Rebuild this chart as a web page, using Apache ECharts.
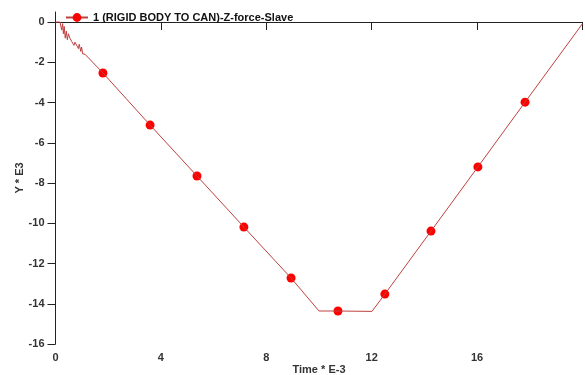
<!DOCTYPE html>
<html>
<head>
<meta charset="utf-8">
<script src="https://cdn.jsdelivr.net/npm/echarts@6/dist/echarts.min.js"></script>
<style>
  html, body { margin: 0; padding: 0; background: #fff; }
  #chart { width: 585px; height: 375px; }
</style>
</head>
<body>
<div id="chart"></div>
<script>
// curve trace (time * E-3, force * E3)
const times = [0, 0.17, 0.235, 0.27, 0.30, 0.33, 0.37, 0.41, 0.45, 0.49, 0.55, 0.61, 0.70, 0.74, 0.87, 0.90, 0.96, 0.99, 1.03, 1.12,
  1.80, 3.59, 5.37, 7.15, 8.94, 10.0, 10.72, 12.01, 12.50, 14.25, 16.03, 17.82, 20.0];
const values = [0, 0, -0.40, -0.08, -0.58, -0.22, -0.80, -0.45, -0.88, -0.58, -0.82, -0.95, -1.16, -1.00, -1.32, -1.10, -1.46, -1.24, -1.58, -1.60,
  -2.53, -5.12, -7.65, -10.19, -12.72, -14.36, -14.36, -14.38, -13.52, -10.39, -7.20, -3.98, -0.08];

// plotted markers on the curve
const markerTimes = [1.80, 3.59, 5.37, 7.15, 8.94, 10.72, 12.50, 14.25, 16.03, 17.82];
const markerValues = [-2.53, -5.12, -7.65, -10.19, -12.72, -14.36, -13.52, -10.39, -7.20, -3.98];

const xTicks = [0, 4, 8, 12, 16, 20];
const xLabels = [0, 4, 8, 12, 16];
const yTicks = [-16, -14, -12, -10, -8, -6, -4, -2, 0];

const seriesName = '1 (RIGID BODY TO CAN)-Z-force-Slave';

const chart = echarts.init(document.getElementById('chart'));
const labelStyle = {
  color: '#333',
  fontFamily: 'Liberation Sans',
  fontSize: 11,
  fontWeight: 'bold'
};

chart.setOption({
  animation: false,
  grid: {
    left: 55.5,
    right: 2.5,
    top: 12,
    bottom: 31,
    outerBoundsMode: 'none'
  },
  legend: {
    data: [seriesName],
    left: 60,
    top: 7,
    itemWidth: 22,
    itemHeight: 11,
    textStyle: {
      color: '#111',
      fontFamily: 'Liberation Sans',
      fontSize: 11,
      fontWeight: 'bold'
    }
  },
  xAxis: {
    type: 'value',
    min: 0,
    max: 20,
    name: 'Time * E-3',
    nameLocation: 'middle',
    nameGap: 20,
    nameMoveOverlap: false,
    nameTextStyle: labelStyle,
    axisLine: { lineStyle: { color: '#222', width: 1 } },
    axisTick: { show: true, length: 8, customValues: xTicks, lineStyle: { color: '#222' } },
    axisLabel: Object.assign({ margin: 8, customValues: xLabels }, labelStyle),
    splitLine: { show: false }
  },
  yAxis: {
    type: 'value',
    min: -16,
    max: 0.5,
    name: 'Y * E3',
    nameLocation: 'middle',
    nameGap: 30,
    nameMoveOverlap: false,
    nameTextStyle: labelStyle,
    axisLine: { show: true, lineStyle: { color: '#222', width: 1 } },
    axisTick: { show: true, length: 8, customValues: yTicks, lineStyle: { color: '#222' } },
    axisLabel: Object.assign({ margin: 11, customValues: yTicks }, labelStyle),
    splitLine: { show: false }
  },
  series: [
    {
      name: seriesName,
      type: 'line',
      data: times.map((t, i) => [t, values[i]]),
      symbol: 'circle',
      showSymbol: false,
      lineStyle: { color: '#bf4040', width: 1 },
      itemStyle: { color: '#ff0000' }
    },
    {
      name: 'markers',
      type: 'scatter',
      data: markerTimes.map((t, i) => [t, markerValues[i]]),
      symbol: 'circle',
      symbolSize: 9,
      itemStyle: { color: '#ff0000', opacity: 1 }
    }
  ]
});
</script>
</body>
</html>
